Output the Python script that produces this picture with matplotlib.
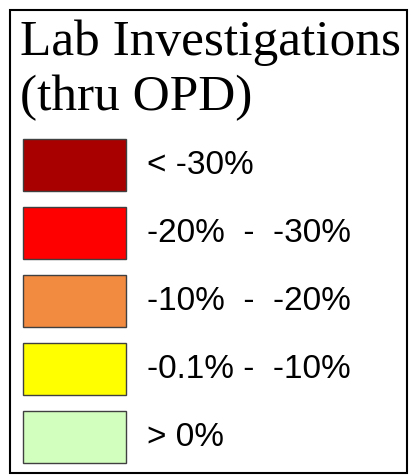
import matplotlib
matplotlib.use("Agg")
import matplotlib.pyplot as plt
from matplotlib.patches import Rectangle

title_lines = ["Lab Investigations", "(thru OPD)"]
class_labels = ["< -30%", "-20%  -  -30%", "-10%  -  -20%", "-0.1% -  -10%", "> 0%"]
class_colors = ["#A80000", "#FF0000", "#F28A40", "#FFFF00", "#D3FFBE"]

W, H = 411, 476
fig = plt.figure(figsize=(W / 100, H / 100), dpi=100)
ax = fig.add_axes([0, 0, 1, 1])
ax.set_xlim(0, W)
ax.set_ylim(H, 0)
ax.axis("off")

# outer frame
ax.add_patch(Rectangle((10, 10), 397, 463, fill=False, edgecolor="black", lw=1.5))

# title
ax.text(20, 55, title_lines[0], family="Liberation Serif", fontsize=37,
        va="baseline", ha="left")
ax.text(20, 110, title_lines[1], family="Liberation Serif", fontsize=37,
        va="baseline", ha="left")

# swatches + labels
y0, step, sh = 139, 68, 52
for i, (lab, col) in enumerate(zip(class_labels, class_colors)):
    y = y0 + i * step
    ax.add_patch(Rectangle((23, y), 103, sh, facecolor=col, edgecolor="#404040", lw=1))
    ax.text(147, y + sh / 2 + 1, lab, family="Liberation Sans", fontsize=24,
            va="center", ha="left")

fig.savefig("out.png", dpi=100)
